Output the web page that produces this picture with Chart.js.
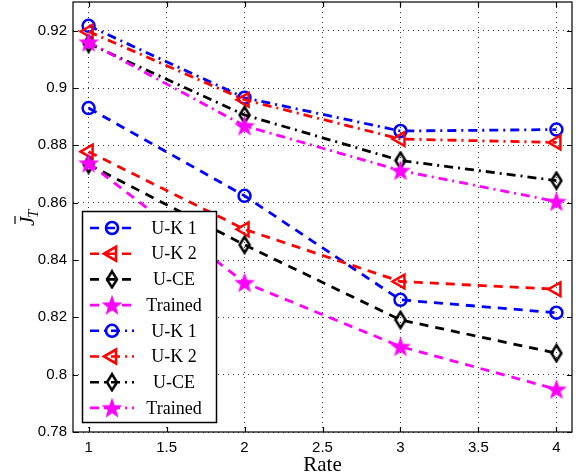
<!DOCTYPE html>
<html>
<head>
<meta charset="utf-8">
<script src="https://cdn.jsdelivr.net/npm/chart.js@4.4.0/dist/chart.umd.min.js"></script>
<style>
  body { margin: 0; background: #fff; }
  #wrap { width: 576px; height: 476px; }
</style>
</head>
<body>
<div id="wrap"><canvas id="chart" width="576" height="476"></canvas></div>
<script>
// datos
const rates = [1, 2, 3, 4];
const seriesNames = ['U-K 1', 'U-K 2', 'U-CE', 'Trained', 'U-K 1', 'U-K 2', 'U-CE', 'Trained'];
const ukOneDash = [0.893, 0.8624, 0.8261, 0.8216];
const ukTwoDash = [0.8778, 0.8507, 0.8325, 0.8298];
const uceDash = [0.8733, 0.8453, 0.8191, 0.8075];
const trainedDash = [0.8738, 0.8321, 0.8098, 0.7949];
const ukOneDashDot = [0.9217, 0.8966, 0.885, 0.8855];
const ukTwoDashDot = [0.9197, 0.8959, 0.8822, 0.881];
const uceDashDot = [0.9155, 0.8906, 0.8747, 0.8677];
const trainedDashDot = [0.916, 0.8868, 0.8712, 0.8604];
const xTicks = [1, 1.5, 2, 2.5, 3, 3.5, 4];
const yTicks = [0.78, 0.8, 0.82, 0.84, 0.86, 0.88, 0.9, 0.92];

// marcadores propios: estrella rellena y rombo
function makeStar(color) {
  const c = document.createElement('canvas');
  c.width = 22; c.height = 22;
  const g = c.getContext('2d');
  g.fillStyle = color;
  g.beginPath();
  for (let i = 0; i < 10; i++) {
    const r = i % 2 === 0 ? 11 : 4.4;
    const a = -Math.PI / 2 + i * Math.PI / 5;
    const px = 11 + r * Math.cos(a), py = 11.8 + r * Math.sin(a);
    if (i === 0) g.moveTo(px, py); else g.lineTo(px, py);
  }
  g.closePath();
  g.fill();
  return c;
}
function makeDiamond(color) {
  const c = document.createElement('canvas');
  c.width = 14; c.height = 20;
  const g = c.getContext('2d');
  g.strokeStyle = color;
  g.lineWidth = 2.5;
  g.beginPath();
  g.moveTo(7, 2); g.lineTo(12, 10); g.lineTo(7, 18); g.lineTo(2, 10);
  g.closePath();
  g.stroke();
  return c;
}
const starImg = makeStar('#ff00ff');
const diamondImg = makeDiamond('#000000');

const dashed = [9, 7];
const dashDot = [9, 5, 2, 5];

function serie(i, values, color, dash, style, radius, rot) {
  return {
    label: seriesNames[i],
    data: values.map((v, k) => ({ x: rates[k], y: v })),
    borderColor: color,
    borderWidth: 2.8,
    borderDash: dash,
    pointStyle: style,
    pointRadius: radius,
    pointRotation: rot || 0,
    pointBorderColor: color,
    pointBackgroundColor: 'rgba(0,0,0,0)',
    pointBorderWidth: 2.5,
    fill: false,
    tension: 0,
    clip: false,
    order: 8 - i
  };
}

const datasets = [
  serie(0, ukOneDash, '#0000ff', dashed, 'circle', 6),
  serie(1, ukTwoDash, '#ff0000', dashed, 'triangle', 8, -90),
  serie(2, uceDash, '#000000', dashed, diamondImg, 8),
  serie(3, trainedDash, '#ff00ff', dashed, starImg, 10),
  serie(4, ukOneDashDot, '#0000ff', dashDot, 'circle', 6),
  serie(5, ukTwoDashDot, '#ff0000', dashDot, 'triangle', 8, -90),
  serie(6, uceDashDot, '#000000', dashDot, diamondImg, 8),
  serie(7, trainedDashDot, '#ff00ff', dashDot, starImg, 10)
];

// caja, marcas hacia dentro, etiquetas de ejes y leyenda
const frame = {
  id: 'frame',
  afterDraw(chart) {
    const ctx = chart.ctx;
    const a = chart.chartArea;
    const xs = chart.scales.x, ys = chart.scales.y;
    ctx.save();
    ctx.strokeStyle = '#000';
    ctx.lineWidth = 1.2;
    ctx.setLineDash([]);
    ctx.strokeRect(a.left, a.top, a.right - a.left, a.bottom - a.top);
    ctx.beginPath();
    xTicks.forEach(v => {
      const px = Math.round(xs.getPixelForValue(v)) + 0.5;
      ctx.moveTo(px, a.bottom); ctx.lineTo(px, a.bottom - 5);
      ctx.moveTo(px, a.top); ctx.lineTo(px, a.top + 5);
    });
    yTicks.forEach(v => {
      const py = Math.round(ys.getPixelForValue(v)) + 0.5;
      ctx.moveTo(a.left, py); ctx.lineTo(a.left + 5, py);
      ctx.moveTo(a.right, py); ctx.lineTo(a.right - 5, py);
    });
    ctx.stroke();

    // etiqueta x
    ctx.fillStyle = '#000';
    ctx.font = '21px "Liberation Serif"';
    ctx.textAlign = 'center';
    ctx.textBaseline = 'middle';
    ctx.fillText('Rate', (a.left + a.right) / 2, 465);

    // etiqueta y: J con barra y subíndice T
    ctx.translate(27, 217);
    ctx.rotate(-Math.PI / 2);
    ctx.font = 'italic 21px "Liberation Serif"';
    ctx.textAlign = 'left';
    ctx.textBaseline = 'alphabetic';
    ctx.fillText('J', -9, 7);
    ctx.lineWidth = 1.2;
    ctx.beginPath();
    ctx.moveTo(-7, -12); ctx.lineTo(1, -12);
    ctx.stroke();
    ctx.font = 'italic 15px "Liberation Serif"';
    ctx.fillText('T', -1, 11);
    ctx.restore();

    // leyenda
    ctx.save();
    ctx.fillStyle = '#fff';
    ctx.fillRect(82, 211, 135, 212);
    ctx.strokeStyle = '#000';
    ctx.lineWidth = 1.5;
    ctx.strokeRect(82.5, 211.5, 134, 211);
    chart.data.datasets.forEach((ds, i) => {
      const y = 228 + i * 25.7;
      ctx.strokeStyle = ds.borderColor;
      ctx.lineWidth = 2.6;
      ctx.setLineDash(ds.borderDash);
      ctx.beginPath();
      ctx.moveTo(90, y); ctx.lineTo(134, y);
      ctx.stroke();
      ctx.setLineDash([]);
      ctx.fillStyle = 'rgba(0,0,0,0)';
      Chart.helpers.drawPoint(ctx, {
        pointStyle: ds.pointStyle,
        radius: ds.pointRadius,
        rotation: ds.pointRotation,
        borderWidth: 2.5
      }, 112, y);
      ctx.fillStyle = '#000';
      ctx.font = '18px "Liberation Serif"';
      ctx.textAlign = 'center';
      ctx.textBaseline = 'middle';
      ctx.fillText(ds.label, 174, y + 1);
    });
    ctx.restore();
  }
};

function noPadding(s) {
  s.paddingTop = 0; s.paddingBottom = 0;
  s.paddingLeft = 0; s.paddingRight = 0;
}

new Chart(document.getElementById('chart'), {
  type: 'line',
  data: { datasets: datasets },
  plugins: [frame],
  options: {
    responsive: false,
    animation: false,
    layout: { autoPadding: false, padding: { top: 2, right: 4, left: 0, bottom: 0 } },
    plugins: { legend: { display: false }, tooltip: { enabled: false } },
    scales: {
      x: {
        type: 'linear',
        min: 0.9,
        max: 4.1,
        afterBuildTicks: s => { s.ticks = xTicks.map(v => ({ value: v })); },
        afterFit: s => { s.height = 44; noPadding(s); },
        grid: { color: '#333', lineWidth: 1, drawTicks: false },
        border: { display: false, dash: [1, 4] },
        ticks: {
          color: '#000',
          padding: 7,
          maxRotation: 0,
          font: { family: '"Liberation Sans"', size: 15 },
          callback: v => String(v)
        }
      },
      y: {
        type: 'linear',
        min: 0.78,
        max: 0.93,
        afterBuildTicks: s => { s.ticks = yTicks.map(v => ({ value: v })); },
        afterFit: s => { s.width = 73; noPadding(s); },
        grid: { color: '#333', lineWidth: 1, drawTicks: false },
        border: { display: false, dash: [1, 4] },
        ticks: {
          color: '#000',
          padding: 6,
          font: { family: '"Liberation Sans"', size: 15 },
          callback: v => String(Math.round(v * 100) / 100)
        }
      }
    }
  }
});
</script>
</body>
</html>
